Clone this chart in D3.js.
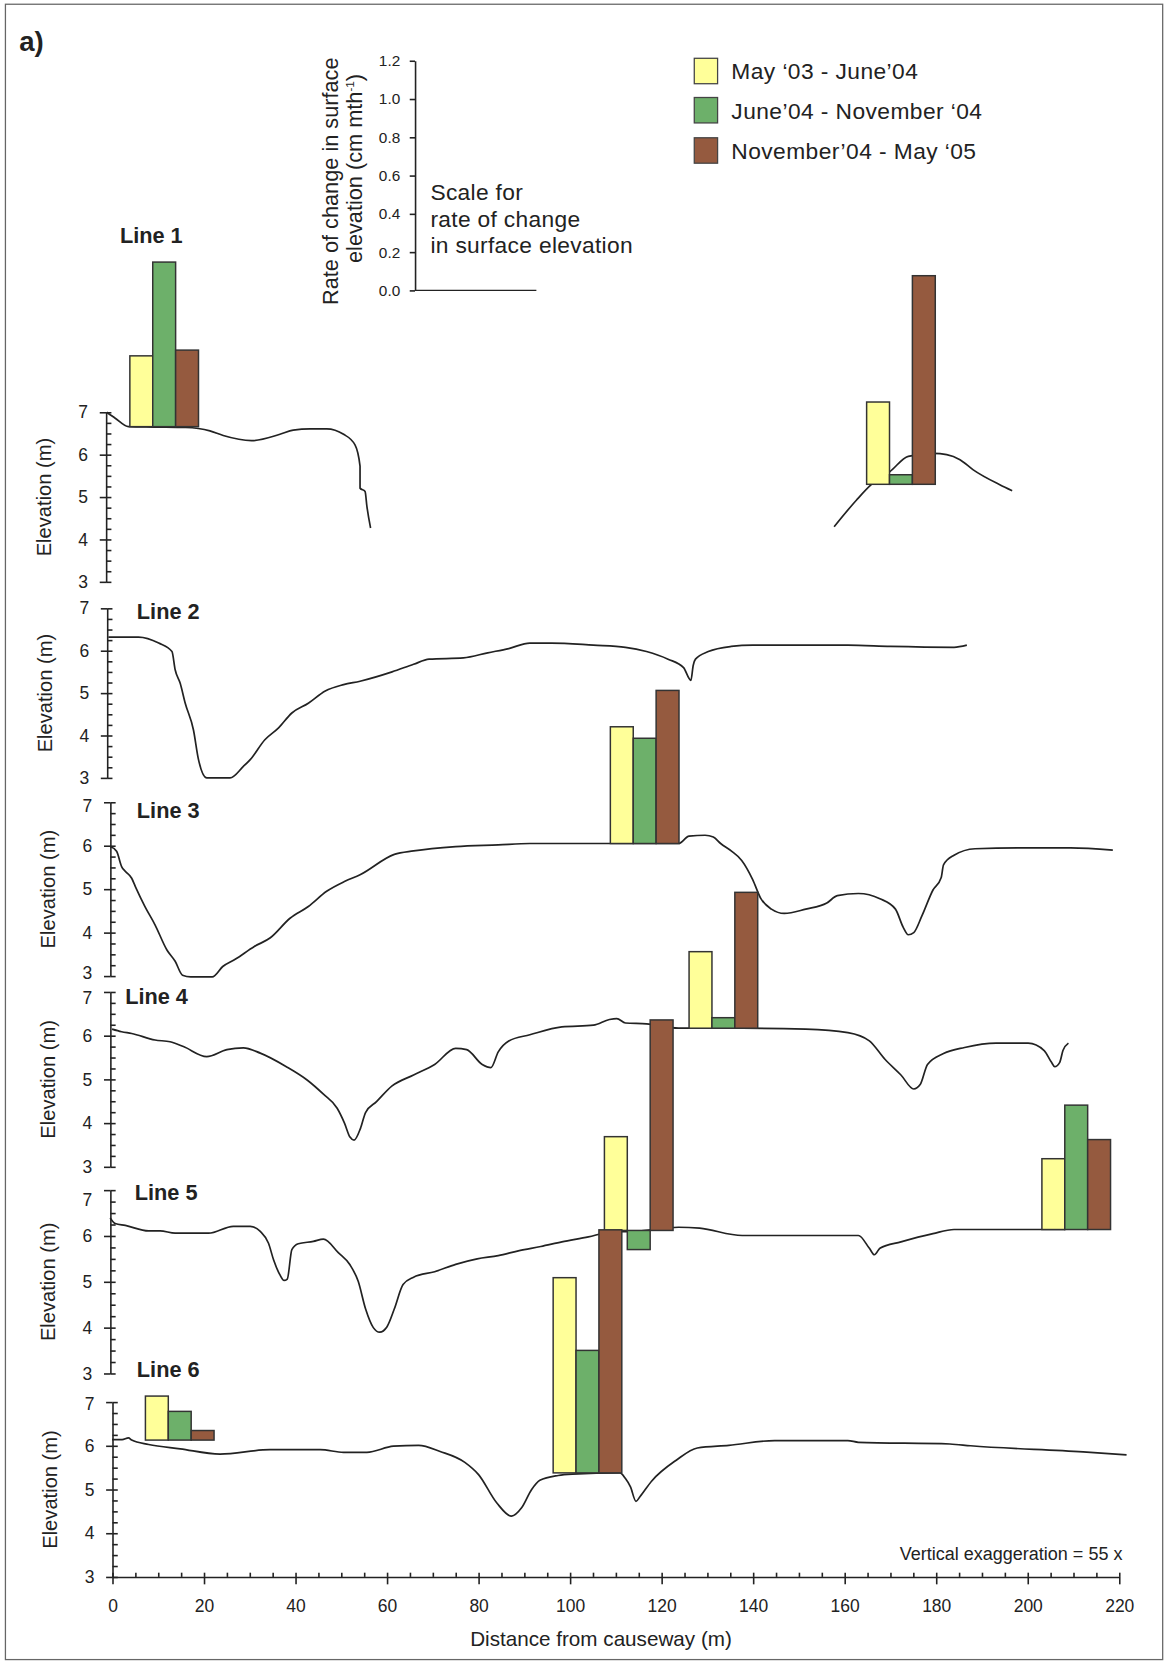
<!DOCTYPE html>
<html>
<head>
<meta charset="UTF-8">
<title>Surface elevation profiles</title>
<script src="https://d3js.org/d3.v7.min.js"></script>
<style>
    body { margin: 0; background: #fff; }
    svg { display: block; font-family: "Liberation Sans", Arial, sans-serif; }
    .axis path, .axis line { stroke: #222; stroke-width: 1.5; }
    .axis text { fill: #222; font-family: "Liberation Sans", Arial, sans-serif; }
</style>
</head>
<body>
<svg id="chart" width="1166" height="1667" viewBox="0 0 1100 1573"></svg>
<script>
    // ---- data ----
    const lineNames = ['Line 1', 'Line 2', 'Line 3', 'Line 4', 'Line 5', 'Line 6'];
    const periods = ['May \u201803 - June\u201904', 'June\u201904 - November \u201804', 'November\u201904 - May \u201805'];
    const periodColors = ['#ffff99', '#6db06a', '#955a3f'];

    const elevTicks = [3, 4, 5, 6, 7];
    const distTicks = [0, 20, 40, 60, 80, 100, 120, 140, 160, 180, 200, 220];
    const rateTicks = [0, 0.2, 0.4, 0.6, 0.8, 1.0, 1.2];

    // profiles: [distance (m), elevation (m)]
    const profile1a = [[-1.25,7.0],[0.6,6.86],[3.5,6.66],[9,6.65],[16,6.64],[21.3,6.56],[24.2,6.45],[30.4,6.33],[36.6,6.48],[39.5,6.58],[43.2,6.61],[46.8,6.61],[50.5,6.48],[53,6.23],[54.1,5.73],[54.1,5.21],[55.2,5.13],[55.6,4.78],[56.4,4.27]];
    const profile1b = [[157.7,4.3],[162.6,4.93],[165.8,5.29],[169.9,5.6],[173.9,5.96],[179.4,6.03],[182.3,6.0],[185.2,5.88],[188.1,5.64],[193.9,5.29],[196.6,5.15]];
    const profile2 = [[-0.9,6.32],[5.7,6.32],[10.1,6.18],[13.0,5.98],[13.7,5.55],[14.8,5.23],[15.9,4.76],[17.7,4.13],[18.8,3.43],[20.6,3.0],[25.7,3.0],[28.6,3.27],[30.1,3.43],[33.3,3.9],[36.3,4.18],[39.2,4.53],[42.8,4.76],[46.5,5.05],[50.5,5.2],[54.1,5.28],[61.1,5.5],[65.8,5.68],[69.2,5.8],[76.7,5.83],[82.0,5.95],[86.6,6.05],[91.2,6.18],[95.9,6.18],[105.1,6.13],[112.1,6.08],[116.7,5.98],[121.4,5.8],[124.8,5.6],[126.4,5.3],[126.9,5.65],[127.4,5.8],[130.2,5.98],[135.2,6.1],[139.9,6.13],[160.7,6.13],[170.0,6.1],[183.9,6.08],[186.7,6.13]];
    const profile3 = [[-0.5,5.98],[0.9,5.87],[2.0,5.52],[2.8,5.41],[4.2,5.25],[5.0,5.06],[7.1,4.6],[9.3,4.18],[11.9,3.6],[13.7,3.34],[15.3,3.02],[17.1,2.98],[21.8,2.98],[24.1,3.22],[26.9,3.39],[31.0,3.68],[34.5,3.88],[38.8,4.33],[42.8,4.6],[46.8,4.95],[50.8,5.18],[54.1,5.33],[61.6,5.8],[65.8,5.88],[75.0,5.98],[84.3,6.02],[91.2,6.05],[123.7,6.05],[126.0,6.22],[129.5,6.24],[131.3,6.2],[132.9,6.05],[135.2,5.88],[137.5,5.66],[139.9,5.22],[141.7,4.78],[144.0,4.54],[146.8,4.44],[151.5,4.54],[156.1,4.68],[158.4,4.85],[163.0,4.9],[167.7,4.78],[171.1,4.54],[172.8,4.12],[173.9,3.95],[175.1,4.0],[176.9,4.39],[179.3,4.98],[181.1,5.27],[181.6,5.56],[183.9,5.78],[188.5,5.93],[197.8,5.95],[209.4,5.95],[218.6,5.9]];
    const profile4 = [[-0.1,6.15],[2.0,6.09],[4.2,6.05],[9.3,5.9],[12.6,5.86],[15.5,5.75],[20.6,5.52],[25.0,5.68],[28.6,5.72],[32.3,5.6],[38.0,5.29],[42.6,4.98],[46.1,4.66],[49.1,4.34],[50.7,4.0],[51.9,3.68],[52.8,3.61],[54.2,3.88],[55.3,4.24],[57.7,4.49],[61.1,4.85],[65.8,5.1],[70.4,5.34],[75.0,5.71],[77.4,5.68],[80.8,5.34],[82.7,5.27],[84.3,5.63],[86.6,5.88],[91.2,6.02],[98.2,6.2],[105.1,6.24],[108.6,6.37],[110.2,6.39],[112.1,6.29],[116.7,6.27],[123.7,6.17],[137.6,6.17],[151.5,6.15],[160.7,6.07],[165.4,5.88],[168.8,5.46],[172.3,5.1],[175.1,4.78],[176.5,4.88],[178.1,5.34],[181.6,5.59],[186.2,5.73],[193.1,5.83],[200.1,5.83],[203.6,5.66],[205.2,5.39],[205.9,5.29],[207.0,5.39],[207.7,5.66],[208.9,5.83]];
    const profile5 = [[-0.5,6.39],[0.6,6.27],[2.8,6.23],[7.9,6.11],[10.4,6.11],[13.7,6.06],[21.0,6.06],[26.4,6.21],[30.1,6.21],[32.3,6.1],[34.1,5.84],[35.2,5.48],[36.6,5.15],[37.5,5.03],[38.2,5.06],[39.2,5.7],[40.6,5.83],[43.9,5.88],[46.1,5.93],[49.4,5.63],[51.9,5.37],[53.7,5.01],[55.3,4.41],[57.0,4.0],[58.4,3.9],[60.0,4.02],[61.6,4.41],[63.5,4.94],[65.8,5.1],[70.4,5.22],[75.0,5.38],[79.7,5.5],[84.3,5.57],[88.9,5.68],[93.6,5.77],[98.2,5.87],[104.0,5.98],[108.6,6.08],[114.4,6.1],[123.7,6.19],[128.3,6.17],[137.6,6.01],[151.5,6.01],[163.0,6.01],[165.4,5.73],[166.5,5.59],[167.7,5.73],[172.3,5.87],[179.3,6.05],[183.9,6.14],[208.2,6.14]];
    const profile6 = [[-0.1,6.14],[2.1,6.14],[3.5,6.18],[4.2,6.13],[7.9,6.03],[14.8,5.93],[23.5,5.81],[34.4,5.91],[45.4,5.91],[50.5,5.85],[55.6,5.85],[61.4,5.99],[66.9,6.01],[71.6,5.87],[77.0,5.62],[80.0,5.34],[84.0,4.69],[87.2,4.39],[89.4,4.58],[91.6,5.0],[93.4,5.21],[97.4,5.32],[100.5,5.35],[110.9,5.38],[112.1,5.25],[113.2,5.06],[114.4,4.73],[115.3,4.84],[117.8,5.19],[123.2,5.67],[127.8,5.95],[134.7,6.01],[144.7,6.12],[160.7,6.12],[163.0,6.08],[183.0,6.04],[187.5,6.0],[212.1,5.86],[221.6,5.79]];
    const profiles = [[profile1a, profile1b], [profile2], [profile3], [profile4], [profile5], [profile6]];

    // bar groups: which line, start distance (m), ground elevation (m), rates (cm/mth) per period
    const barLine  = [0, 0, 2, 3, 4, 4, 5, 5];
    const barStart = [3.8, 164.8, 108.8, 126.0, 107.5, 203.1, 7.2, 96.3];
    const barBase  = [6.66, 5.3, 6.05, 6.17, 6.12, 6.14, 6.13, 5.38];
    const rateMay03 = [0.37, 0.43, 0.61, 0.40, 0.49, 0.37, 0.23, 1.02];
    const rateJun04 = [0.86, 0.05, 0.55, 0.055, -0.10, 0.65, 0.15, 0.64];
    const rateNov04 = [0.40, 1.09, 0.80, 0.71, 1.10, 0.47, 0.05, 1.27];
    const barWidthM = 5;

    // ---- layout ----
    const panelTop    = [389, 574, 757, 936, 1123, 1323];
    const panelBottom = [549, 734, 921, 1101, 1296, 1488];
    const axisX       = [100, 101, 104, 104, 104, 106];
    const labelX      = [113, 129, 129, 118, 127, 129];
    const labelY      = [222, 577, 765, 940, 1125, 1292];
    const topLabelShift = [0, 0, 3, 6, 9, 2];   // "7" labels sit a little below the cap tick
    const bottomLabelShift = [0, 0, -3, 0, 0, 0];

    const svg = d3.select('#chart');

    svg.append('rect')
        .attr('x', 5).attr('y', 4).attr('width', 1092).attr('height', 1562)
        .attr('fill', 'none').attr('stroke', '#666').attr('stroke-width', 1.2);

    svg.append('text').attr('x', 18).attr('y', 48)
        .attr('font-size', 26).attr('font-weight', 'bold').attr('fill', '#222').text('a)');

    const x = d3.scaleLinear().domain([0, 220]).range([106, 1056]);
    const rateY = d3.scaleLinear().domain([0, 1.2]).range([274, 57.3]);
    const rateH = v => rateY(0) - rateY(v);

    const lineGen = d3.line().curve(d3.curveMonotoneX);

    lineNames.forEach((name, i) => {
        const y = d3.scaleLinear().domain([3, 7]).range([panelBottom[i], panelTop[i]]);
        const g = svg.append('g');

        // major ticks with labels
        const major = g.append('g').attr('class', 'axis')
            .attr('transform', `translate(${axisX[i]},0)`)
            .call(d3.axisLeft(y).tickValues(elevTicks).tickSize(6).tickSizeOuter(0).tickPadding(11).tickFormat(d3.format('d')));
        major.selectAll('text')
            .attr('font-size', 16.5)
            .attr('transform', d => `translate(0,${d === 7 ? topLabelShift[i] : d === 3 ? bottomLabelShift[i] : 0})`);
        // minor ticks on the right side
        const minor = g.append('g').attr('class', 'axis')
            .attr('transform', `translate(${axisX[i]},0)`)
            .call(d3.axisRight(y).tickValues(d3.range(3, 7.001, 0.25)).tickSize(5).tickSizeOuter(0).tickFormat(''));
        minor.select('.domain').remove();

        g.append('text')
            .attr('transform', `translate(${axisX[i] - 52},${y(5)}) rotate(-90)`)
            .attr('text-anchor', 'middle').attr('font-size', 19).attr('fill', '#222')
            .text('Elevation (m)');

        g.append('text').attr('x', labelX[i]).attr('y', labelY[i] + 7)
            .attr('font-size', 20.5).attr('font-weight', 'bold').attr('fill', '#222')
            .text(name);

        profiles[i].forEach(seg => {
            g.append('path')
                .attr('d', lineGen.x(d => x(d[0])).y(d => y(d[1]))(seg))
                .attr('fill', 'none').attr('stroke', '#222').attr('stroke-width', 1.6);
        });
    });

    // bars
    const rates = [rateMay03, rateJun04, rateNov04];
    const barData = [];
    barLine.forEach((li, gi) => {
        const y = d3.scaleLinear().domain([3, 7]).range([panelBottom[li], panelTop[li]]);
        rates.forEach((r, k) => {
            barData.push({
                x0: x(barStart[gi] + barWidthM * k),
                x1: x(barStart[gi] + barWidthM * (k + 1)),
                base: y(barBase[gi]),
                h: rateH(r[gi]),
                color: periodColors[k]
            });
        });
    });
    svg.append('g').selectAll('rect').data(barData).enter().append('rect')
        .attr('x', d => d.x0)
        .attr('width', d => d.x1 - d.x0)
        .attr('y', d => d.h >= 0 ? d.base - d.h : d.base)
        .attr('height', d => Math.abs(d.h))
        .attr('fill', d => d.color)
        .attr('stroke', '#333').attr('stroke-width', 1.4);

    // bottom distance axis
    svg.append('g').attr('class', 'axis')
        .attr('transform', 'translate(0,1488)')
        .call(d3.axisBottom(x).tickValues(distTicks).tickSize(7).tickSizeOuter(0).tickPadding(14))
        .selectAll('text').attr('font-size', 16.5);
    const xMinor = svg.append('g').attr('class', 'axis')
        .attr('transform', 'translate(0,1488)')
        .call(d3.axisTop(x).tickValues(d3.range(0, 220.1, 5)).tickSize(4).tickSizeOuter(0).tickFormat(''));
    xMinor.select('.domain').remove();

    svg.append('text').attr('x', 567).attr('y', 1553)
        .attr('text-anchor', 'middle').attr('font-size', 19.5).attr('fill', '#222')
        .text('Distance from causeway (m)');
    svg.append('text').attr('x', 1059).attr('y', 1472)
        .attr('text-anchor', 'end').attr('font-size', 17).attr('fill', '#222')
        .text('Vertical exaggeration = 55 x');

    // rate scale
    const rateAxis = svg.append('g').attr('class', 'axis')
        .attr('transform', 'translate(391.5,0)')
        .call(d3.axisLeft(rateY).tickValues(rateTicks).tickSize(5).tickSizeOuter(0).tickPadding(9).tickFormat(d3.format('.1f')));
    rateAxis.selectAll('text').attr('font-size', 14.5);
    svg.append('line')
        .attr('x1', 391.5).attr('x2', 506).attr('y1', rateY(0)).attr('y2', rateY(0))
        .attr('stroke', '#222').attr('stroke-width', 1.2);

    svg.append('text')
        .attr('transform', 'translate(319,171) rotate(-90)')
        .attr('text-anchor', 'middle').attr('font-size', 20.5).attr('fill', '#222')
        .text('Rate of change in surface');
    const t2 = svg.append('text')
        .attr('transform', 'translate(341,159) rotate(-90)')
        .attr('text-anchor', 'middle').attr('font-size', 20.5).attr('fill', '#222');
    t2.append('tspan').text('elevation (cm mth');
    t2.append('tspan').attr('dy', -7).attr('font-size', 11).text('-1');
    t2.append('tspan').attr('dy', 7).text(')');

    svg.append('g').selectAll('text')
        .data(['Scale for', 'rate of change', 'in surface elevation'])
        .enter().append('text')
        .attr('x', 406).attr('y', (d, i) => 189 + i * 25)
        .attr('font-size', 21.5).attr('letter-spacing', 0.3).attr('fill', '#222')
        .text(d => d);

    // legend
    const legend = svg.append('g').selectAll('g').data(periods).enter().append('g')
        .attr('transform', (d, i) => `translate(655,${[55, 92, 130][i]})`);
    legend.append('rect').attr('width', 22).attr('height', 24)
        .attr('fill', (d, i) => periodColors[i]).attr('stroke', '#444').attr('stroke-width', 1.2);
    legend.append('text').attr('x', 35).attr('y', 20)
        .attr('font-size', 21.5).attr('letter-spacing', 0.4).attr('fill', '#222').text(d => d);
</script>
</body>
</html>
